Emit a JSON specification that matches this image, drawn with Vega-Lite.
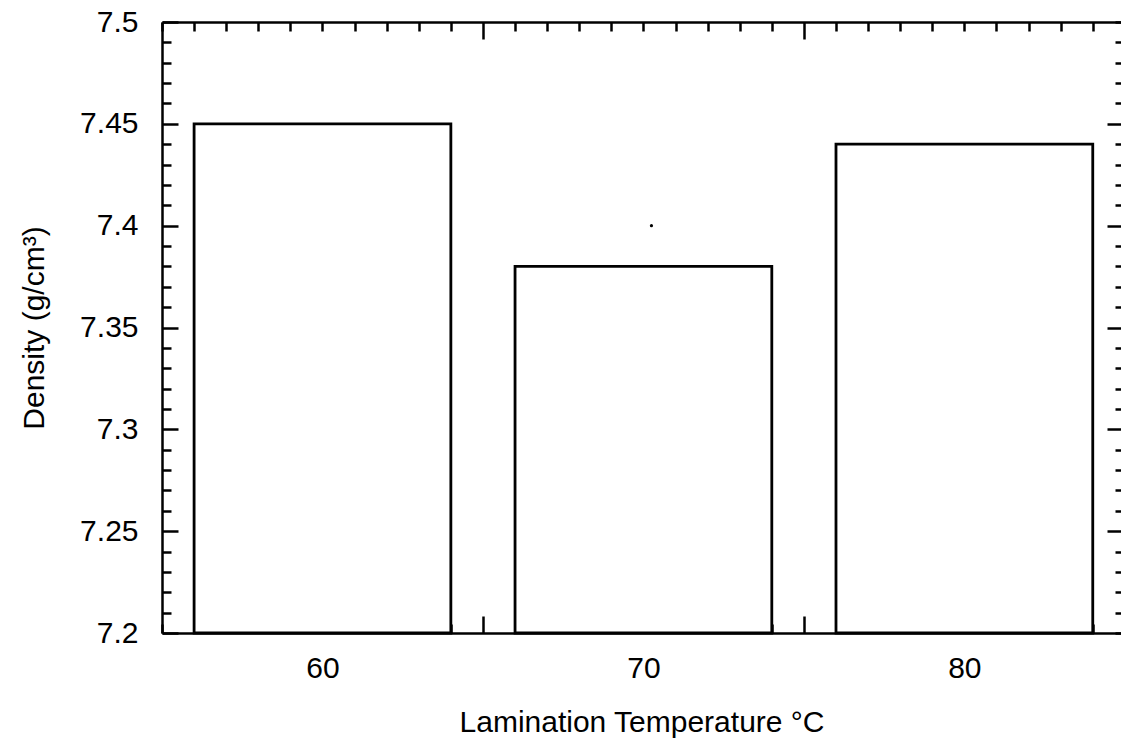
{
  "$schema": "https://vega.github.io/schema/vega-lite/v6.json",
  "width": 959,
  "height": 611,
  "autosize": {"type": "none"},
  "padding": {"left": 162, "top": 22, "right": 0, "bottom": 107},
  "background": "white",
  "config": {
    "view": {"stroke": null},
    "font": "Liberation Sans",
    "axis": {
      "domainColor": "black", "domainWidth": 2.5, "tickColor": "black", "tickWidth": 2.5,
      "grid": false, "labelColor": "black", "titleColor": "black",
      "labelFont": "Liberation Sans", "titleFont": "Liberation Sans",
      "labelFontSize": 30, "titleFontSize": 30, "titleFontWeight": "normal",
      "labelOverlap": false, "labelFlush": false
    }
  },
  "resolve": {"axis": {"x": "independent", "y": "independent"}},
  "layer": [
    {
      "data": {"values": [
        {"temp": 60, "lo": 56, "hi": 64, "density": 7.45},
        {"temp": 70, "lo": 66, "hi": 74, "density": 7.38},
        {"temp": 80, "lo": 76, "hi": 84, "density": 7.44}
      ]},
      "mark": {"type": "bar", "fill": "white", "stroke": "black", "strokeWidth": 2.8},
      "encoding": {
        "x": {"field": "lo", "type": "quantitative",
          "scale": {"domain": [55, 84.88], "nice": false, "zero": false},
          "axis": {"orient": "bottom", "title": "Lamination Temperature °C",
            "values": [55,56,57,58,59,60,61,62,63,64,65,66,67,68,69,70,71,72,73,74,75,76,77,78,79,80,81,82,83,84],
            "labelExpr": "indexof([60,70,80], datum.value) >= 0 ? datum.label : ''",
            "tickSize": {"condition": {"test": "datum.value === 65 || datum.value === 75", "value": -17}, "value": -9},
            "labelPadding": 29, "titlePadding": 24}},
        "x2": {"field": "hi"},
        "y": {"field": "density", "type": "quantitative",
          "scale": {"domain": [7.2, 7.5], "nice": false, "zero": false},
          "axis": {"orient": "left", "title": "Density (g/cm³)",
            "values": [7.2,7.21,7.22,7.23,7.24,7.25,7.26,7.27,7.28,7.29,7.3,7.31,7.32,7.33,7.34,7.35,7.36,7.37,7.38,7.39,7.4,7.41,7.42,7.43,7.44,7.45,7.46,7.47,7.48,7.49,7.5],
            "labelExpr": "indexof([7.2,7.25,7.3,7.35,7.4,7.45,7.5], datum.value) >= 0 ? format(datum.value, '.2~f') : ''",
            "tickSize": {"condition": {"test": "indexof([7.2,7.25,7.3,7.35,7.4,7.45,7.5], datum.value) >= 0", "value": -16}, "value": -9},
            "labelPadding": 40, "titlePadding": 30}},
        "y2": {"datum": 7.2}
      }
    },
    {
      "data": {"values": [{"temp": 70.25, "density": 7.40}]},
      "mark": {"type": "point", "filled": true, "color": "black", "size": 10, "opacity": 1},
      "encoding": {
        "x": {"field": "temp", "type": "quantitative",
          "scale": {"domain": [55, 84.88], "nice": false, "zero": false},
          "axis": {"orient": "top", "title": null, "labels": false,
            "values": [55,56,57,58,59,60,61,62,63,64,65,66,67,68,69,70,71,72,73,74,75,76,77,78,79,80,81,82,83,84],
            "tickSize": {"condition": {"test": "datum.value === 65 || datum.value === 75", "value": -17}, "value": -9}}},
        "y": {"field": "density", "type": "quantitative",
          "scale": {"domain": [7.2, 7.5], "nice": false, "zero": false},
          "axis": {"orient": "right", "title": null, "labels": false, "domain": false,
            "values": [7.2,7.21,7.22,7.23,7.24,7.25,7.26,7.27,7.28,7.29,7.3,7.31,7.32,7.33,7.34,7.35,7.36,7.37,7.38,7.39,7.4,7.41,7.42,7.43,7.44,7.45,7.46,7.47,7.48,7.49,7.5],
            "tickSize": {"condition": {"test": "indexof([7.25,7.3,7.35,7.4,7.45], datum.value) >= 0", "value": -14}, "value": -6}}}
      }
    }
  ]
}
